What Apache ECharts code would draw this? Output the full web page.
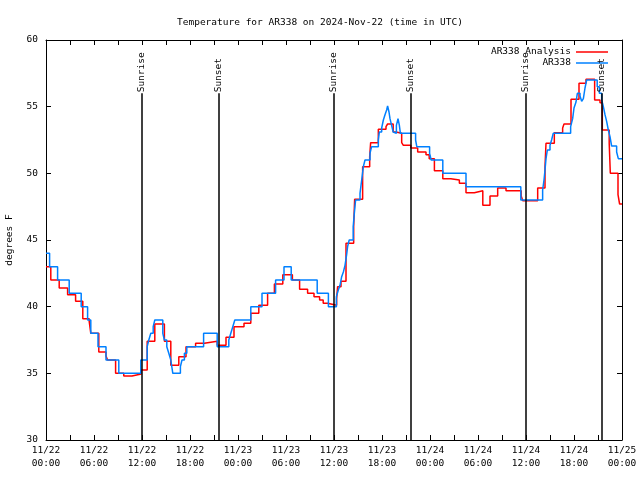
<!DOCTYPE html>
<html><head><meta charset="utf-8">
<script src="https://cdn.jsdelivr.net/npm/echarts@6/dist/echarts.min.js"></script>
<style>html,body{margin:0;padding:0;background:#fff}#c{width:640px;height:480px}</style>
</head><body><div id="c"></div>
<script>
// ---- data (hours since 2024-11-22 00:00 UTC, degrees F) ----
const chartTitle = 'Temperature for AR338 on 2024-Nov-22 (time in UTC)';
const yAxisName = 'degrees F';
const xTickLabels = ['11/22\n00:00','11/22\n06:00','11/22\n12:00','11/22\n18:00',
  '11/23\n00:00','11/23\n06:00','11/23\n12:00','11/23\n18:00',
  '11/24\n00:00','11/24\n06:00','11/24\n12:00','11/24\n18:00','11/25\n00:00'];
const seriesNames = ['AR338 Analysis', 'AR338'];
const analysisReadings = [
  [0,43],[0.6,42],[1.65,41.4],[2.7,40.9],[3.7,40.4],[4.6,39.1],[5.4,38.9],[5.6,38],
  [6.6,36.6],[7.5,36.3],[7.7,36],[8.7,35],[9.72,34.8],[10.75,34.95],[11.9,35.25],
  [12.65,37.4],[13.6,38.7],[14.8,37.4],[15.6,35.6],[16.6,36.25],[17.5,37],[18.7,37.25],
  [19.8,37.4],[21.4,37.1],[22.5,37.7],[23.5,38.5],[24.75,38.75],[25.6,39.5],[26.6,40.1],
  [27.7,41],[28.55,41.7],[29.6,42.4],[30.8,42],[31.7,41.3],[32.7,41.0],[33.5,40.75],
  [34.2,40.5],[34.65,40.25],[35.2,40.1],[36.33,40.6],[36.45,41.5],[36.875,41.9],
  [37.5,44.75],[38.46,46],[38.58,48.05],[39.58,50.5],[40.46,51.25],[40.58,52.3],
  [41.54,53.3],[42.5,53.5],[42.7,53.7],[43.4,53.1],[43.75,53.0],[44.46,52.3],[44.67,52.1],
  [45.6,51.9],[46.46,51.6],[47.5,51.4],[47.9,51.1],[48.55,50.2],[49.6,49.6],[50.6,49.5],
  [51.67,49.25],[52.5,48.55],[53.54,48.7],[54.6,47.6],[55.5,48.3],[56.46,48.9],[57.5,48.7],
  [59.4,48.3],[59.6,47.95],[61.46,48.9],[62.375,50.5],[62.5,52.25],[63.54,53.05],
  [64.58,53.4],[64.75,53.7],[65.625,55.55],[66.625,56.75],[67.5,57.05],[68.58,55.5],
  [69.25,55.3],[69.54,53.25],[70.4,52.25],[70.54,50],[71.5,48.4],[71.7,47.7],[72,47.7]
];
const stationReadings = [
  [0,44],[0.45,43],[1.45,42],[2.9,41],[4.4,40],[5.2,39],[5.6,38],[6.5,37],[7.5,36],
  [9.1,35],[11.85,36],[12.65,37],[12.85,37.5],[13.1,38],[13.4,38.5],[13.6,39],[14.6,38],
  [14.8,37.5],[15.1,37],[15.35,36.5],[15.6,36],[15.85,35],[16.8,35.5],[17.0,36],[17.3,36.5],
  [17.6,37],[19.7,38],[21.4,37],[22.85,37.5],[23.1,38],[23.35,38.5],[23.6,39],[25.6,40],
  [27.0,41],[28.7,42],[29.75,43],[30.65,42],[33.9,41],[35.3,40],[36.3,40.75],[36.54,41.25],
  [36.75,41.6],[36.96,42.25],[37.17,42.6],[37.375,43.1],[37.58,43.9],[37.7,44.5],[37.9,45],
  [38.4,46],[38.54,47],[38.7,48],[39.25,48.5],[39.46,49.5],[39.67,50.5],[39.875,51],
  [40.5,51.5],[40.7,52],[41.54,52.5],[41.67,53.1],[41.96,53.4],[42.17,54],[42.375,54.4],
  [42.58,54.75],[42.7,55.05],[42.875,54.6],[43.0,54.1],[43.2,53.6],[43.4,53.1],[43.6,53],
  [43.8,53.6],[44.0,54.1],[44.17,53.6],[44.3,53],[46.2,52.5],[46.35,52],[47.95,51.5],
  [48.15,51],[49.6,50],[52.5,49],[59.35,48],[62.08,48.75],[62.25,49.5],[62.375,50.25],
  [62.5,51.1],[62.67,51.75],[63.0,52.1],[63.2,52.5],[63.4,53],[65.58,53.5],[65.83,54.1],
  [66.0,54.9],[66.25,55.35],[66.42,56],[66.75,55.8],[66.96,55.4],[67.17,55.6],[67.375,56.4],
  [67.58,57],[68.9,56.5],[69.17,56],[69.46,55.5],[69.67,55],[69.875,54.4],[70.08,53.9],
  [70.29,53.25],[70.5,52.75],[70.7,52.05],[71.33,51.6],[71.54,51.1],[72,51.1]
];
const sunEventHours = [12.0, 21.6, 36.0, 45.6, 60.0, 69.5];
const sunEventNames = ['Sunrise','Sunset','Sunrise','Sunset','Sunrise','Sunset'];

// ---- chart ----
const FONT = 'DejaVu Sans Mono';
const FS = 9.5;
const X_MIN = 0, X_MAX = 72, X_STEP = 6;
const Y_MIN = 30, Y_MAX = 60, Y_STEP = 5;
const LINE_TOP = 56.0;

const markData = [];
sunEventHours.forEach((h, i) => {
  markData.push([{coord: [h, Y_MIN]}, {coord: [h, LINE_TOP]}]);
  markData.push([
    {coord: [h, LINE_TOP], lineStyle: {color: 'rgba(0,0,0,0)', width: 0},
     label: {show: true, position: 'insideStart', distance: 1, formatter: sunEventNames[i],
             color: '#000', fontFamily: FONT, fontSize: FS}},
    {coord: [h, Y_MAX]}
  ]);
});

const tickStyle = {color: '#000', width: 1};
const baseX = {
  type: 'value', min: X_MIN, max: X_MAX, interval: X_STEP,
  axisLine: {show: true, onZero: false, lineStyle: tickStyle},
  axisTick: {show: true, inside: true, length: 5, lineStyle: tickStyle},
  minorTick: {show: true, splitNumber: 2, length: 5, lineStyle: tickStyle},
  splitLine: {show: false}
};
const baseY = {
  type: 'value', min: Y_MIN, max: Y_MAX, interval: Y_STEP,
  axisLine: {show: true, onZero: false, lineStyle: tickStyle},
  axisTick: {show: true, inside: true, length: 5, lineStyle: tickStyle},
  splitLine: {show: false}
};

const chart = echarts.init(document.getElementById('c'));
chart.setOption({
  animation: false,
  backgroundColor: '#fff',
  title: {text: chartTitle, left: 'center', top: 13,
    textStyle: {fontFamily: FONT, fontSize: FS, fontWeight: 'normal', color: '#000'}},
  legend: {
    data: seriesNames, orient: 'vertical', align: 'right', right: 27, top: 42,
    icon: 'rect', itemWidth: 32, itemHeight: 1.5, itemGap: 1,
    textStyle: {fontFamily: FONT, fontSize: FS, color: '#000'}
  },
  grid: {left: 46, right: 18, top: 40, bottom: 40, containLabel: false, outerBoundsMode: 'none'},
  xAxis: [
    Object.assign({}, baseX, {position: 'bottom',
      axisLabel: {color: '#000', fontFamily: FONT, fontSize: FS, lineHeight: 13, margin: 4,
        formatter: v => xTickLabels[Math.round((v - X_MIN) / X_STEP)]}}),
    Object.assign({}, baseX, {position: 'top', axisLabel: {show: false}})
  ],
  yAxis: [
    Object.assign({}, baseY, {position: 'left', name: yAxisName, nameLocation: 'middle',
      nameGap: 31, nameRotate: 90,
      nameTextStyle: {fontFamily: FONT, fontSize: FS, color: '#000'},
      axisLabel: {color: '#000', fontFamily: FONT, fontSize: FS, margin: 8}}),
    Object.assign({}, baseY, {position: 'right', axisLabel: {show: false}})
  ],
  series: [
    {
      name: seriesNames[0], type: 'line', step: 'end', symbol: 'none',
      xAxisIndex: 0, yAxisIndex: 0,
      data: analysisReadings,
      lineStyle: {color: '#ff0000', width: 1.5}, itemStyle: {color: '#ff0000'},
      markLine: {silent: true, symbol: ['none', 'none'], animation: false,
        lineStyle: {color: '#000', width: 1.5, type: 'solid'},
        label: {show: false}, data: markData}
    },
    {
      name: seriesNames[1], type: 'line', step: 'end', symbol: 'none',
      xAxisIndex: 0, yAxisIndex: 0,
      data: stationReadings,
      lineStyle: {color: '#0080ff', width: 1.5}, itemStyle: {color: '#0080ff'}
    }
  ]
});
</script>
</body></html>
